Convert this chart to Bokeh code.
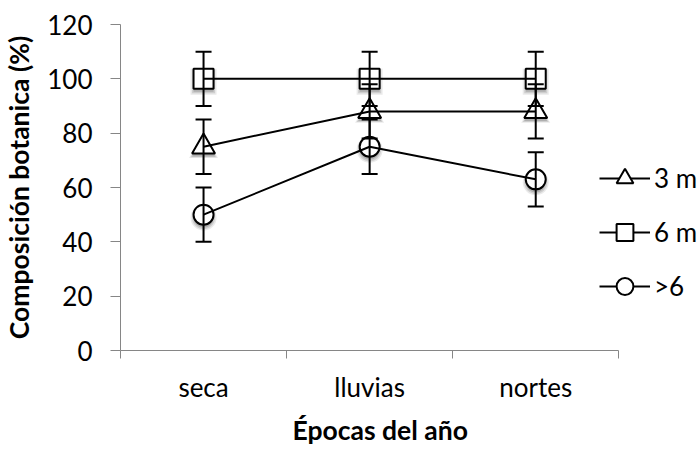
from bokeh.plotting import figure
from bokeh.models import (Range1d, FixedTicker, ColumnDataSource, Whisker, TeeHead,
                          Legend, LegendItem, Title)
from bokeh.transform import dodge
from bokeh.embed import file_html
from bokeh.resources import INLINE

# Seasons of the year (categories) and the botanical composition per age group
epocas = ["seca", "lluvias", "nortes"]
series_labels = ["3 m", "6 m", ">6"]
comp_3m = [75, 88, 88]
comp_6m = [100, 100, 100]
comp_gt6 = [50, 75, 63]
err_3m = [10, 10, 10]
err_6m = [10, 10, 10]
err_gt6 = [10, 10, 10]
y_ticks = [0, 20, 40, 60, 80, 100, 120]

FONT = "Lato"
AXIS_GREY = "#868686"

W, H = 699, 454
LEFT, TOP, BOTTOM = 118, 24, 104
AXIS_PX = 500          # drawn length of the category axis
PLOT_PX_H = 326        # drawn height of the value axis
Y_MAX = 120

n = len(epocas)
# category centres on a numeric axis so ticks can sit between categories
x_pos = [i + 0.5 for i in range(n)]
cat_edges = [i for i in range(n + 1)]
# the frame runs to the right edge so the legend can sit past the axis end
x_end = n * (W - LEFT) / AXIS_PX

p = figure(width=W, height=H, output_backend="svg", toolbar_location=None,
           x_range=Range1d(0, x_end), y_range=Range1d(0, Y_MAX),
           min_border_left=LEFT, min_border_right=0, min_border_top=TOP,
           min_border_bottom=BOTTOM)
p.outline_line_color = None
p.xgrid.visible = False
p.ygrid.visible = False
p.background_fill_color = "white"
p.border_fill_color = "white"

# y axis
ya = p.yaxis[0]
ya.ticker = FixedTicker(ticks=y_ticks)
ya.axis_line_color = AXIS_GREY
ya.major_tick_line_color = AXIS_GREY
ya.major_tick_in = 0
ya.major_tick_out = 10
ya.minor_tick_line_color = None
ya.major_label_text_font = FONT
ya.major_label_text_font_size = "26px"
ya.major_label_text_color = "black"
ya.major_label_standoff = 18
ya.axis_label = "Composición botanica (%)"
ya.axis_label_text_font = FONT
ya.axis_label_text_font_style = "bold"
ya.axis_label_text_font_size = "26.5px"
ya.axis_label_text_color = "black"
ya.axis_label_standoff = 9

# x axis: labels at category centres, tick marks at the category edges
xa = p.xaxis[0]
xa.bounds = (0, n)
xa.ticker = FixedTicker(ticks=x_pos, minor_ticks=cat_edges)
xa.major_label_overrides = {x: e for x, e in zip(x_pos, epocas)}
xa.axis_line_color = AXIS_GREY
xa.major_tick_line_color = None
xa.major_tick_in = 0
xa.major_tick_out = 8
xa.minor_tick_line_color = AXIS_GREY
xa.minor_tick_in = 0
xa.minor_tick_out = 8
xa.major_label_text_font = FONT
xa.major_label_text_font_size = "26px"
xa.major_label_text_color = "black"
xa.major_label_standoff = 12

# x axis title, placed under the middle of the category axis
p.add_layout(Title(text="Épocas del año", align="left", offset=172,
                   vertical_align="middle", standoff=15,
                   text_font=FONT, text_font_style="bold",
                   text_font_size="26.5px", text_color="black"), "below")

series = [
    (comp_3m, err_3m, "triangle", 23),
    (comp_6m, err_6m, "square", 20),
    (comp_gt6, err_gt6, "circle", 20),
]

# soft drop shadow under the markers, a few pixels down
shadow_dy = -3 * Y_MAX / PLOT_PX_H

items = []
for (vals, errs, marker, size), label in zip(series, series_labels):
    src = ColumnDataSource(data=dict(
        x=x_pos, y=vals,
        lower=[v - e for v, e in zip(vals, errs)],
        upper=[v + e for v, e in zip(vals, errs)],
    ))
    for grow, alpha in ((6, 0.12), (3, 0.18), (0, 0.25)):
        p.scatter("x", dodge("y", shadow_dy, range=p.y_range), source=src,
                  marker=marker, size=size + grow, fill_color="#555555",
                  fill_alpha=alpha, line_color=None, level="underlay")
    pts = p.scatter("x", "y", source=src, marker=marker, size=size,
                    fill_color="white", line_color="black", line_width=2,
                    level="underlay")
    ln = p.line("x", "y", source=src, line_color="black", line_width=2)
    wh = Whisker(base="x", lower="lower", upper="upper", source=src,
                 line_color="black", line_width=2, level="overlay",
                 upper_head=TeeHead(size=16, line_color="black", line_width=2),
                 lower_head=TeeHead(size=16, line_color="black", line_width=2))
    p.add_layout(wh)
    items.append(LegendItem(label=label, renderers=[ln, pts]))

legend = Legend(items=items, location=(479, 43), orientation="vertical",
                glyph_width=51, glyph_height=42, spacing=12, label_standoff=4,
                padding=0, margin=0, border_line_color=None,
                background_fill_alpha=0, label_text_font=FONT,
                label_text_font_size="26px", label_text_color="black",
                label_height=42)
p.add_layout(legend)

open("out.html", "w").write(file_html(p, INLINE))
